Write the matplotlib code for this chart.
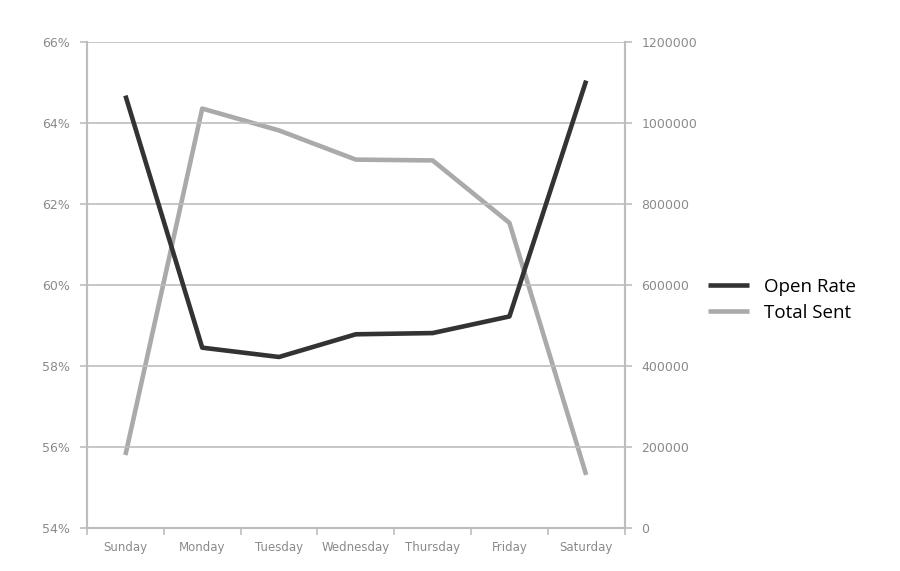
import matplotlib
matplotlib.use("Agg")
import matplotlib.pyplot as plt
import numpy as np
from matplotlib.ticker import FuncFormatter, FixedLocator

days = ["Sunday", "Monday", "Tuesday", "Wednesday", "Thursday", "Friday", "Saturday"]
open_rate = [64.67, 58.45, 58.22, 58.78, 58.81, 59.22, 65.04]
total_sent = [180000, 1035000, 981000, 909000, 907000, 753000, 131000]

grid_c = "#bdbdbd"
txt_c = "#8a8a8a"

fig = plt.figure(figsize=(9, 5.71), dpi=100)
ax = fig.add_axes([0.0967, 0.0753, 0.5973, 0.8517])
ax2 = ax.twinx()

x = np.arange(len(days))
l1, = ax.plot(x, open_rate, color="#333333", lw=3.3, solid_capstyle="butt", zorder=3, label="Open Rate")
l2, = ax2.plot(x, total_sent, color="#aaaaaa", lw=3.3, solid_capstyle="butt", zorder=2, label="Total Sent")

ax.set_zorder(ax2.get_zorder() + 1)
ax.patch.set_visible(False)

ax.set_xlim(-0.5, len(days) - 0.5)
ax.set_ylim(54, 66)
ax2.set_ylim(0, 1200000)
ax.set_yticks(np.arange(54, 67, 2))
ax2.set_yticks(np.arange(0, 1200001, 200000))
ax.yaxis.set_major_formatter(FuncFormatter(lambda v, p: f"{int(round(v))}%"))
ax2.yaxis.set_major_formatter(FuncFormatter(lambda v, p: f"{int(round(v))}"))

ax.set_xticks(x)
ax.set_xticklabels(days)
ax.xaxis.set_minor_locator(FixedLocator(np.arange(-0.5, len(days), 1.0)))
ax.tick_params(axis="x", which="major", length=0, pad=9, labelsize=8.5, labelcolor=txt_c)
ax.tick_params(axis="x", which="minor", length=5, color=grid_c, width=1.2)

ax.grid(axis="y", color=grid_c, lw=1.2, zorder=0)
ax.set_axisbelow(True)
ax.tick_params(axis="y", length=5, color=grid_c, width=1.2, labelsize=9, labelcolor=txt_c, pad=7)
ax2.tick_params(axis="y", length=5, color=grid_c, width=1.2, labelsize=9, labelcolor=txt_c, pad=7)

for a in (ax, ax2):
    a.spines["top"].set_visible(False)
    for s in ("left", "right", "bottom"):
        a.spines[s].set_color(grid_c)
        a.spines[s].set_linewidth(1.5)

fig.legend(handles=[l1, l2], loc="center left", bbox_to_anchor=(0.768, 0.475),
           frameon=False, handlelength=2.2, handletextpad=0.8,
           labelspacing=0.45, prop={"family": "Open Sans", "size": 13.5})

fig.savefig("out.png", dpi=100)
